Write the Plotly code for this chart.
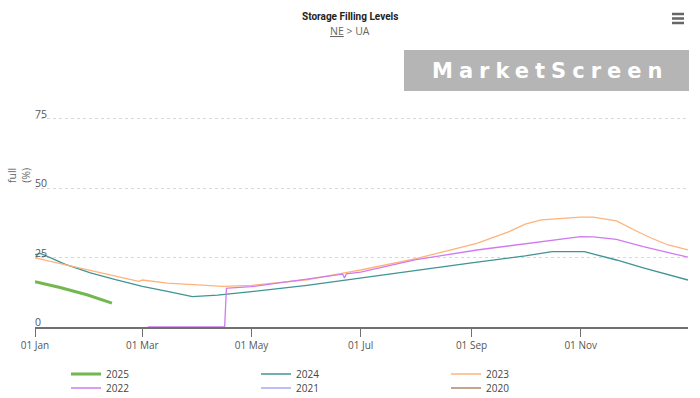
import plotly.graph_objects as go

# ---------------- data (base year 2024 used as a day-of-year axis) ----------------
dates_2025 = ["2024-01-01", "2024-01-15", "2024-01-30", "2024-02-13"]
vals_2025 = [16.3, 14.2, 11.6, 8.6]

dates_2024 = ["2024-01-01", "2024-01-04", "2024-01-18", "2024-02-01", "2024-02-15", "2024-03-01",
              "2024-03-15", "2024-03-29", "2024-04-12", "2024-05-01", "2024-06-01", "2024-06-22",
              "2024-07-01", "2024-07-28", "2024-09-01", "2024-10-01", "2024-10-16", "2024-11-03",
              "2024-11-21", "2024-12-06", "2024-12-31"]
vals_2024 = [26.0, 26.5, 22.5, 19.5, 17.0, 14.6,
             12.8, 10.9, 11.5, 12.7, 15.0, 16.9,
             17.7, 20.1, 23.1, 25.6, 27.1, 27.1,
             24.1, 21.3, 16.9]

dates_2023 = ["2024-01-01", "2024-01-18", "2024-02-01", "2024-02-15", "2024-02-28", "2024-03-01",
              "2024-03-15", "2024-04-01", "2024-04-15", "2024-05-01", "2024-06-01", "2024-06-22",
              "2024-07-01", "2024-08-01", "2024-09-04", "2024-09-22", "2024-10-01", "2024-10-10",
              "2024-11-01", "2024-11-08", "2024-11-21", "2024-12-01", "2024-12-10", "2024-12-20",
              "2024-12-31"]
vals_2023 = [24.9, 22.5, 20.5, 18.3, 16.4, 16.9,
             15.8, 15.0, 14.6, 15.0, 17.0, 19.5,
             20.5, 24.6, 30.1, 34.3, 37.0, 38.5,
             39.5, 39.5, 38.2, 34.9, 32.1, 29.5,
             27.7]

dates_2022 = ["2024-03-04", "2024-04-16", "2024-04-17", "2024-04-18", "2024-05-01", "2024-06-01",
              "2024-06-21", "2024-06-22", "2024-06-23", "2024-07-01", "2024-08-01", "2024-09-04",
              "2024-10-10", "2024-11-01", "2024-11-08", "2024-11-21", "2024-12-06", "2024-12-31"]
vals_2022 = [0.0, 0.0, 13.9, 14.0, 14.5, 17.2,
             19.0, 17.6, 19.1, 19.7, 24.2, 27.7,
             30.7, 32.5, 32.4, 31.5, 28.9, 25.1]

# no data drawn for these years (legend only)
dates_2021 = ["2024-01-01"]
vals_2021 = [None]
dates_2020 = ["2024-01-01"]
vals_2020 = [None]

x_tickvals = ["2024-01-01", "2024-03-01", "2024-05-01", "2024-07-01", "2024-09-01", "2024-11-01"]
x_ticktext = ["01 Jan", "01 Mar", "01 May", "01 Jul", "01 Sep", "01 Nov"]
y_tickvals = [0, 25, 50, 75, 100]
y_ticktext = ["0", "25", "50", "75", ""]

series = [
    ("2025", dates_2025, vals_2025, "#72b84e", 3, "legend"),
    ("2024", dates_2024, vals_2024, "#3f9494", 1.3, "legend"),
    ("2023", dates_2023, vals_2023, "#ffb27a", 1.3, "legend"),
    ("2022", dates_2022, vals_2022, "#cf7bf0", 1.3, "legend2"),
    ("2021", dates_2021, vals_2021, "#a9a9ef", 1.3, "legend2"),
    ("2020", dates_2020, vals_2020, "#b0866a", 1.3, "legend2"),
]

W, H = 700, 398
L, R, T, B = 35, 12, 49, 71
PW, PH = W - L - R, H - T - B


def px(x):
    return (x - L) / PW


def py(y):
    return (H - B - y) / PH


fig = go.Figure()
for name, d, v, c, w, lg in series:
    fig.add_trace(go.Scatter(x=d, y=v, mode="lines", name=name, legend=lg,
                             line=dict(color=c, width=w), showlegend=True))

font_fam = "Open Sans, Noto Sans, sans-serif"
leg_common = dict(orientation="h", xanchor="left", yanchor="middle",
                  entrywidth=145, entrywidthmode="pixels", traceorder="normal",
                  font=dict(size=10, color="#444"), itemwidth=30,
                  bgcolor="rgba(0,0,0,0)", borderwidth=0)

fig.update_layout(
    width=W, height=H,
    margin=dict(l=L, r=R, t=T, b=B, autoexpand=False),
    paper_bgcolor="white", plot_bgcolor="white",
    font=dict(family=font_fam, size=10, color="#666"),
    showlegend=True,
    legend=dict(x=px(66), y=py(374), **leg_common),
    legend2=dict(x=px(66), y=py(388), **leg_common),
    xaxis=dict(type="date", range=["2024-01-01", "2024-12-31"],
               tickvals=x_tickvals, ticktext=x_ticktext,
               showgrid=False, showline=True, linecolor="#707070", linewidth=2,
               ticks="outside", ticklen=8, tickcolor="#707070", tickwidth=1,
               tickfont=dict(size=10, color="#555"), zeroline=False),
    yaxis=dict(range=[0, 100], tickvals=y_tickvals, showticklabels=False, showgrid=True,
               gridcolor="#d8d8d8", griddash="dot", gridwidth=1,
               showline=False, zeroline=False, ticks=""),
)

annotations = [
    dict(text="<b>Storage Filling Levels</b>", x=px(350), y=py(16), xref="paper", yref="paper",
         showarrow=False, font=dict(size=10, color="#222", family="Roboto, sans-serif"),
         xanchor="center", yanchor="middle"),
    dict(text="<u>NE</u> > UA", x=px(350), y=py(31), xref="paper", yref="paper",
         showarrow=False, font=dict(size=10.5, color="#666", family=font_fam), xanchor="center", yanchor="middle"),
    dict(text="full<br>(%)", x=px(19), y=py(176), xref="paper", yref="paper", textangle=-90,
         showarrow=False, font=dict(size=10.5, color="#666", family=font_fam), xanchor="center", yanchor="middle"),
    dict(text="<b><span style='letter-spacing:6px'>MarketScreen</span></b>", x=px(550), y=py(71),
         xref="paper", yref="paper", showarrow=False,
         font=dict(size=21, color="white", family="DejaVu Sans"), xanchor="center", yanchor="middle"),
]
# y-axis tick labels sitting on top of their grid lines (inside the plot, left edge)
for v, t in zip(y_tickvals, y_ticktext):
    if t:
        annotations.append(dict(text=t, x=0, y=v, xref="paper", yref="y", xanchor="left",
                                yanchor="bottom", yshift=-4, xshift=-2, showarrow=False,
                                font=dict(size=10.5, color="#555", family=font_fam)))
fig.update_layout(annotations=annotations)

shapes = [
    dict(type="rect", xref="paper", yref="paper", x0=px(404), x1=px(689), y0=py(91), y1=py(50),
         fillcolor="#b5b5b5", line=dict(width=0), layer="below"),
]
for yy in (14, 18.5, 23):
    shapes.append(dict(type="line", xref="paper", yref="paper", x0=px(672), x1=px(684),
                       y0=py(yy), y1=py(yy), line=dict(color="#666", width=2.5)))
fig.update_layout(shapes=shapes)

fig.write_html("out.html", config={"displayModeBar": False},
               post_script="document.body.style.margin='0';document.body.style.overflow='hidden';")
